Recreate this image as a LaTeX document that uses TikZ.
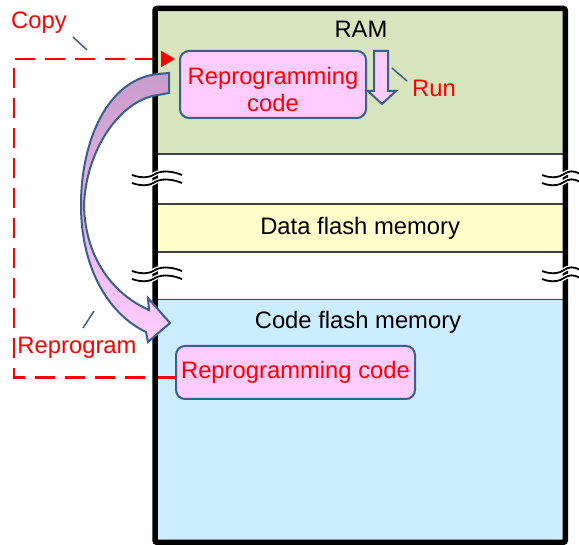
\documentclass[tikz,border=0pt]{standalone}
\usepackage{fontspec}
\setmainfont{Liberation Sans}
\usetikzlibrary{arrows.meta}

\definecolor{ramgreen}{HTML}{D7E4BD}
\definecolor{datayellow}{HTML}{FFFFCC}
\definecolor{codeblue}{HTML}{CCECFF}
\definecolor{pinkfill}{HTML}{FFCCFF}
\definecolor{arrowpurple}{HTML}{C99CCB}
\definecolor{edgeblue}{HTML}{3A5F8B}
\definecolor{linegray}{HTML}{404040}

\tikzset{
  region/.style={draw=linegray, line width=1.3pt, anchor=north west, minimum width=409pt, inner sep=0pt},
  codebox/.style={draw=edgeblue, line width=2pt, fill=pinkfill, rounded corners=9pt, text=red, align=center, inner sep=0pt},
  redlabel/.style={text=red, inner sep=0pt},
  leader/.style={draw=edgeblue, line width=1.5pt},
  copyline/.style={red, line width=2.5pt, dash pattern=on 20pt off 10pt, -{Triangle[length=14pt,width=16pt]}},
  breakline/.style={black, line width=1.8pt, preaction={draw=white, line width=4.5pt}},
}

\begin{document}
\begin{tikzpicture}[x=1pt, y=-1pt, font=\fontsize{23.8}{27}\selectfont]
\useasboundingbox (0,0) rectangle (579,545);

% memory map
\node[region, fill=ramgreen, minimum height=145pt] (ram) at (155,8.5) {};
\node[region, fill=white, minimum height=50pt] (gapa) at (155,153.5) {};
\node[region, fill=datayellow, minimum height=48pt] (dataflash) at (155,203.5) {};
\node[region, fill=white, minimum height=47.5pt] (gapb) at (155,251.5) {};
\node[region, fill=codeblue, minimum height=242pt] (codeflash) at (155,299) {};

\node[codebox, minimum width=186pt, minimum height=67pt, text height=54pt] (code1) at (273,84.5) {Reprogramming\\code};
\node[codebox, minimum width=239pt, minimum height=53pt] (code2) at (295.5,372.5) {Reprogramming code};

% copy path
\draw[copyline, shorten >=4pt] ([yshift=-5pt]code2.west) -- ++(-161,0) |- ([yshift=-9pt]code1.north west);

\draw[line width=5.5pt, rounded corners=2pt] (ram.north west) rectangle (codeflash.south east);

\node (ramlbl) at (361,29) {RAM};
\node (datalbl) at (dataflash.center) {Data flash memory};
\node (codelbl) at (358,322) {Code flash memory};

% breaks
\foreach \yy in {174,182,270,278}{
  \draw[breakline] (132,\yy+1) .. controls (143,\yy+5) and (151,\yy+3) .. (155,\yy) .. controls (160,\yy-3) and (170,\yy-4) .. (182,\yy+1);
  \draw[breakline] (542,\yy+1) .. controls (552,\yy+5) and (560,\yy+3) .. (564,\yy) .. controls (568,\yy-3) and (574,\yy-4) .. (580,\yy);
}

% run
\draw[draw=edgeblue, line width=2pt, fill=pinkfill] (374,51) -- (388,51) -- (388,91) -- (396,91) -- (382,104) -- (368,91) -- (374,91) -- cycle;
\node[redlabel] (runlbl) at (434,88) {Run};
\draw[leader] (392,68) -- (407,81);

\node[redlabel] (copylbl) at (39,23) {Copy};
\draw[leader] (73,37) -- (87,50);

\node[redlabel] (reprolbl) at (77,348) {Reprogram};
\draw[leader] (94,311) -- (83,328);

% reprogram arrow
\draw[draw=edgeblue, line width=2pt, top color=arrowpurple, bottom color=pinkfill]
  (169,73) -- (158,74) .. controls (108,79) and (81,140) .. (81,205)
  .. controls (81,270) and (110,315) .. (146,332)
  -- (148,342) -- (170,323) -- (148,298) -- (149,310)
  .. controls (115,295) and (85,260) .. (84,205)
  .. controls (86,150) and (120,100) .. (158,95) -- (169,93) -- cycle;
\end{tikzpicture}
\end{document}
